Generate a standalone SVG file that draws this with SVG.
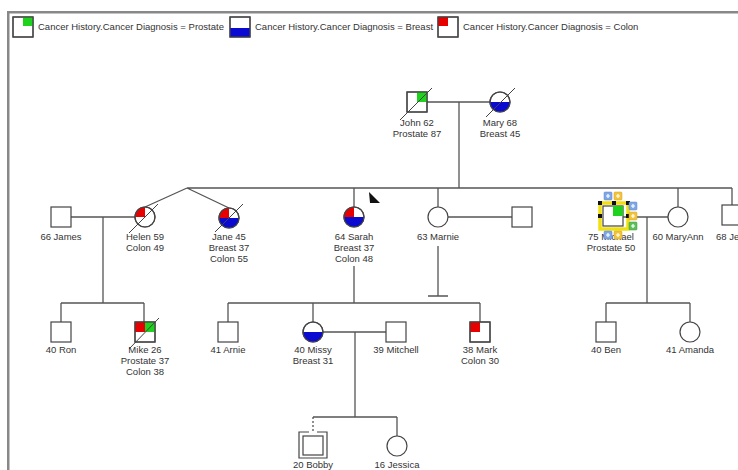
<svg xmlns="http://www.w3.org/2000/svg" width="738" height="470" viewBox="0 0 738 470">
<style>
text{font-family:"Liberation Sans",Arial,sans-serif;font-size:9.5px;fill:#333}
.lbl{text-anchor:middle}
.sym{fill:#fff;stroke:#444;stroke-width:1.2}
.ln{fill:none;stroke:#555;stroke-width:1.3}
.dg{stroke:#444;stroke-width:1}
.g{fill:#1ed21e}.b{fill:#0a0ad0}.r{fill:#e80000}
.hb{fill:#7fa6e6;stroke:#5d86c8;stroke-width:0.5}
.hy{fill:#f2c33c;stroke:#d1a020;stroke-width:0.5}
.hg{fill:#5cc05c;stroke:#3a9a3a;stroke-width:0.5}
.pl{stroke:#fff;stroke-width:1.2}
</style>
<rect x="0" y="0" width="738" height="470" fill="#fff"/>
<g id="frame">
<rect x="7" y="11" width="731" height="2.5" fill="#888"/>
<rect x="7" y="11" width="2.5" height="459" fill="#888"/>
</g>
<g id="legend">
<rect class="sym" x="13" y="17" width="20" height="20"/><rect class="g" x="23" y="17" width="10" height="9"/><rect x="13" y="17" width="20" height="20" fill="none" stroke="#444" stroke-width="1.2"/>
<text x="38" y="30">Cancer History.Cancer Diagnosis = Prostate</text>
<rect class="sym" x="230" y="17" width="20" height="20"/><rect class="b" x="230" y="28" width="20" height="9"/><rect x="230" y="17" width="20" height="20" fill="none" stroke="#444" stroke-width="1.2"/>
<text x="255" y="30">Cancer History.Cancer Diagnosis = Breast</text>
<rect class="sym" x="438" y="17" width="20" height="20"/><rect class="r" x="438" y="17" width="10" height="9"/><rect x="438" y="17" width="20" height="20" fill="none" stroke="#444" stroke-width="1.2"/>
<text x="463" y="30">Cancer History.Cancer Diagnosis = Colon</text>
</g>
<g id="connectors" class="ln">
<path d="M427 102H490M459 102V188M187 188H732M187 188L145 207M187 188L229 208"/>
<path d="M354 188V207M438 188V207M678 188V207M732 188V205"/>
<path d="M71 217H135M103 217V303M61 303H144M61 303V322M144 303V322"/>
<path d="M354 266V303M228 303H480M228 303V322M313 303V322M480 303V322"/>
<path d="M448 217H512M438 246V296M428 296H448"/>
<path d="M623 217H668M647 217V303M606 303H690M606 303V322M690 303V322"/>
<path d="M323 332H386M355 332V417M313 417H397M397 417V436"/>
<path d="M313 417V432" stroke-dasharray="2,2"/>
</g>
<g id="john">
<rect class="sym" x="407" y="92" width="20" height="20"/><rect class="g" x="417" y="92" width="10" height="10"/><rect x="407" y="92" width="20" height="20" fill="none" stroke="#444" stroke-width="1.2"/>
<line class="dg" x1="400" y1="120" x2="432" y2="88"/>
<text class="lbl" x="417" y="126">John 62</text><text class="lbl" x="417" y="137">Prostate 87</text>
</g>
<g id="mary">
<circle class="sym" cx="500" cy="102" r="10"/><path class="b" d="M490 102A10 10 0 0 0 510 102Z"/><circle cx="500" cy="102" r="10" fill="none" stroke="#444" stroke-width="1.2"/>
<line class="dg" x1="486" y1="117" x2="515" y2="88"/>
<text class="lbl" x="500" y="126">Mary 68</text><text class="lbl" x="500" y="137">Breast 45</text>
</g>
<g id="james">
<rect class="sym" x="51" y="207" width="20" height="20"/>
<text class="lbl" x="61" y="240">66 James</text>
</g>
<g id="helen">
<circle class="sym" cx="145" cy="217" r="10"/><path class="r" d="M145 217L135 217A10 10 0 0 1 145 207Z"/><circle cx="145" cy="217" r="10" fill="none" stroke="#444" stroke-width="1.2"/>
<line class="dg" x1="129" y1="233" x2="158" y2="204"/>
<text class="lbl" x="145" y="240">Helen 59</text><text class="lbl" x="145" y="251">Colon 49</text>
</g>
<g id="jane">
<circle class="sym" cx="229" cy="218" r="10"/><path class="r" d="M229 218L219 218A10 10 0 0 1 229 208Z"/><path class="b" d="M219 218A10 10 0 0 0 239 218Z"/><circle cx="229" cy="218" r="10" fill="none" stroke="#444" stroke-width="1.2"/>
<line class="dg" x1="215" y1="232" x2="243" y2="204"/>
<text class="lbl" x="229" y="240">Jane 45</text><text class="lbl" x="229" y="251">Breast 37</text><text class="lbl" x="229" y="262">Colon 55</text>
</g>
<g id="sarah">
<circle class="sym" cx="354" cy="217" r="10"/><path class="r" d="M354 217L344 217A10 10 0 0 1 354 207Z"/><path class="b" d="M344 217A10 10 0 0 0 364 217Z"/><circle cx="354" cy="217" r="10" fill="none" stroke="#444" stroke-width="1.2"/>
<text class="lbl" x="354" y="240">64 Sarah</text><text class="lbl" x="354" y="251">Breast 37</text><text class="lbl" x="354" y="262">Colon 48</text>
</g>
<g id="cursor"><polygon points="369,192 380,203 370,203" fill="#111"/></g>
<g id="marnie">
<circle class="sym" cx="438" cy="217" r="10"/>
<text class="lbl" x="438" y="240">63 Marnie</text>
</g>
<g id="marnie-partner"><rect class="sym" x="512" y="207" width="20" height="20"/></g>
<g id="michael">
<rect class="sym" x="603" y="206" width="20" height="20"/><rect class="g" x="613" y="206" width="10" height="10"/>
<text class="lbl" x="611" y="240">75 Michael</text><text class="lbl" x="611" y="251">Prostate 50</text>
<rect x="600" y="203" width="28" height="26" fill="none" stroke="#f0e010" stroke-width="3.5"/>
<g fill="#111"><rect x="598" y="201" width="4" height="4"/><rect x="612" y="201" width="4" height="4"/><rect x="626" y="201" width="4" height="4"/><rect x="598" y="214" width="4" height="4"/><rect x="626" y="214" width="4" height="4"/></g>
<rect class="hb" x="604" y="192" width="8" height="8" rx="1"/><rect class="hy" x="614" y="192" width="8" height="8" rx="1"/>
<rect class="hb" x="629" y="202" width="8" height="8" rx="1"/><rect class="hy" x="629" y="212" width="8" height="8" rx="1"/><rect class="hg" x="629" y="222" width="8" height="8" rx="1"/>
<rect class="hb" x="604" y="231" width="8" height="8" rx="1"/><rect class="hy" x="614" y="231" width="8" height="8" rx="1"/>
<path class="pl" d="M606 196H610M608 194V198M616 196H620M618 194V198M631 206H635M633 204V208M631 216H635M633 214V218M631 226H635M633 224V228M606 235H610M608 233V237M616 235H620M618 233V237"/>
</g>
<g id="maryann">
<circle class="sym" cx="678" cy="217" r="10"/>
<text class="lbl" x="678" y="240">60 MaryAnn</text>
</g>
<g id="je">
<rect class="sym" x="722" y="205" width="20" height="20"/>
<text x="716" y="240">68 Je</text>
</g>
<g id="ron">
<rect class="sym" x="51" y="322" width="20" height="20"/>
<text class="lbl" x="61" y="353">40 Ron</text>
</g>
<g id="mike">
<rect class="sym" x="135" y="322" width="20" height="20"/><rect class="r" x="135" y="322" width="10" height="10"/><rect class="g" x="145" y="322" width="10" height="10"/><rect x="135" y="322" width="20" height="20" fill="none" stroke="#444" stroke-width="1.2"/>
<line class="dg" x1="129" y1="349" x2="159" y2="318"/>
<text class="lbl" x="145" y="353">Mike 26</text><text class="lbl" x="145" y="364">Prostate 37</text><text class="lbl" x="145" y="375">Colon 38</text>
</g>
<g id="arnie">
<rect class="sym" x="218" y="322" width="20" height="20"/>
<text class="lbl" x="228" y="353">41 Arnie</text>
</g>
<g id="missy">
<circle class="sym" cx="313" cy="332" r="10"/><path class="b" d="M303 332A10 10 0 0 0 323 332Z"/><circle cx="313" cy="332" r="10" fill="none" stroke="#444" stroke-width="1.2"/>
<text class="lbl" x="313" y="353">40 Missy</text><text class="lbl" x="313" y="364">Breast 31</text>
</g>
<g id="mitchell">
<rect class="sym" x="386" y="322" width="20" height="20"/>
<text class="lbl" x="396" y="353">39 Mitchell</text>
</g>
<g id="mark">
<rect class="sym" x="470" y="322" width="20" height="20"/><rect class="r" x="470" y="322" width="10" height="10"/><rect x="470" y="322" width="20" height="20" fill="none" stroke="#444" stroke-width="1.2"/>
<text class="lbl" x="480" y="353">38 Mark</text><text class="lbl" x="480" y="364">Colon 30</text>
</g>
<g id="ben">
<rect class="sym" x="596" y="322" width="20" height="20"/>
<text class="lbl" x="606" y="353">40 Ben</text>
</g>
<g id="amanda">
<circle class="sym" cx="690" cy="332" r="10"/>
<text class="lbl" x="690" y="353">41 Amanda</text>
</g>
<g id="bobby">
<path d="M309 432H299V458H327V432H317" fill="none" stroke="#444" stroke-width="1.2"/>
<rect class="sym" x="303" y="436" width="20" height="19"/>
<text class="lbl" x="313" y="468">20 Bobby</text>
</g>
<g id="jessica">
<circle class="sym" cx="397" cy="446" r="10"/>
<text class="lbl" x="397" y="468">16 Jessica</text>
</g>
</svg>
